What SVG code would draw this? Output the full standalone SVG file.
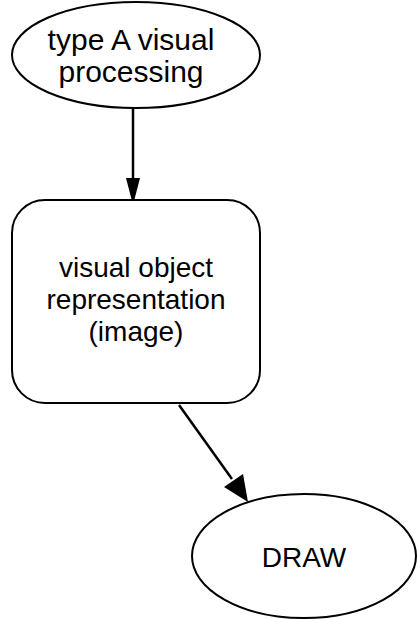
<svg xmlns="http://www.w3.org/2000/svg" width="417" height="619" viewBox="0 0 417 619">
<style>
.shape{fill:#fff;stroke:#000;stroke-width:2}
.lbl{font-family:"Liberation Sans",Arial,sans-serif;font-size:28px;fill:#000;text-anchor:middle}
.big{font-size:30px}
.edge{stroke:#000;stroke-width:2.5;fill:none}
</style>
<g id="connectors">
<path class="edge" d="M133,108 L133,180"/>
<path d="M126,178 L133,205 L140,178 Z" fill="#000"/>
<path class="edge" d="M179,405 L232,479"/>
<path d="M224,487 L248,502 L243,474 Z" fill="#000"/>
</g>
<g id="typeA">
<ellipse class="shape" cx="136" cy="55" rx="124" ry="53"/>
<text class="lbl big" x="131" y="50">type A visual</text>
<text class="lbl big" x="131" y="82">processing</text>
</g>
<g id="visualObject">
<rect class="shape" x="12" y="200" width="248" height="203" rx="33" ry="33"/>
<text class="lbl" x="136" y="277">visual object</text>
<text class="lbl" x="136" y="309">representation</text>
<text class="lbl" x="136" y="341">(image)</text>
</g>
<g id="draw">
<ellipse class="shape" cx="304" cy="556" rx="112" ry="62"/>
<text class="lbl" x="304" y="567">DRAW</text>
</g>
</svg>
